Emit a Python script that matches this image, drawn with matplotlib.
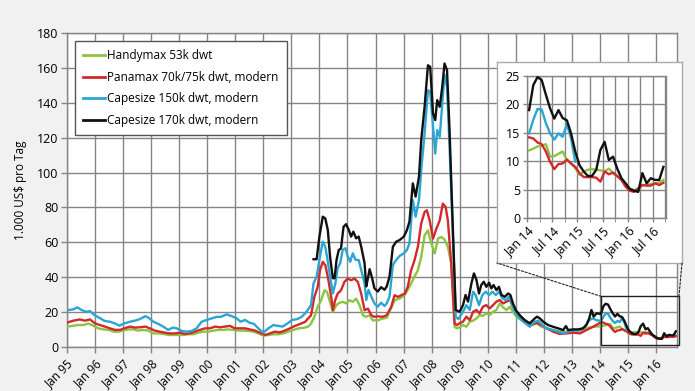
import matplotlib
matplotlib.use('Agg')
import matplotlib.pyplot as plt
from matplotlib.patches import Rectangle, ConnectionPatch
from matplotlib.lines import Line2D

plt.rcParams['font.family'] = ['Open Sans', 'DejaVu Sans']

# ---------------- data (1.000 US$ pro Tag) ----------------
series_names = ["Handymax 53k dwt", "Panamax 70k/75k dwt, modern",
                "Capesize 150k dwt, modern", "Capesize 170k dwt, modern"]

# Handymax 53k dwt, 1995 - 2013 (decimal years)
green_t = [1995.0, 1995.2, 1995.4, 1995.6, 1995.76, 1995.95, 1996.12, 1996.3, 1996.49, 1996.66,
           1996.83, 1997.0, 1997.19, 1997.36, 1997.54, 1997.72, 1997.9, 1998.08, 1998.26, 1998.44,
           1998.61, 1998.8, 1998.97, 1999.15, 1999.32, 1999.5, 1999.68, 1999.86, 2000.04, 2000.22,
           2000.39, 2000.57, 2000.75, 2000.93, 2001.11, 2001.29, 2001.47, 2001.65, 2001.82, 2002.0,
           2002.18, 2002.36, 2002.53, 2002.71, 2002.89, 2003.07, 2003.25, 2003.45, 2003.6, 2003.7,
           2003.82, 2003.94, 2004.06, 2004.18, 2004.27, 2004.36, 2004.48, 2004.6, 2004.71, 2004.83,
           2004.95, 2005.07, 2005.19, 2005.31, 2005.43, 2005.55, 2005.67, 2005.79, 2005.9, 2006.08,
           2006.26, 2006.4, 2006.52, 2006.68, 2006.86, 2007.04, 2007.21, 2007.39, 2007.51, 2007.63,
           2007.75, 2007.87, 2007.99, 2008.11, 2008.23, 2008.35, 2008.46, 2008.58, 2008.7, 2008.82,
           2008.9, 2009.0, 2009.12, 2009.24, 2009.36, 2009.48, 2009.6, 2009.71, 2009.83, 2009.95,
           2010.07, 2010.19, 2010.31, 2010.43, 2010.55, 2010.67, 2010.79, 2010.9, 2011.02, 2011.2,
           2011.38, 2011.56, 2011.74, 2011.92, 2012.1, 2012.33, 2012.57, 2012.81, 2013.05, 2013.29,
           2013.52, 2013.76]
green_v = [11.7, 12.1, 12.6, 12.6, 13.5, 12.1, 10.7, 10.1, 9.8, 8.8,
           8.8, 9.4, 10.1, 10.1, 9.4, 9.8, 9.4, 7.8, 7.8, 7.5,
           6.9, 6.9, 6.9, 6.9, 7.3, 7.3, 8.2, 8.8, 8.8, 9.4,
           9.8, 9.8, 10.1, 9.8, 9.4, 9.4, 9.2, 8.8, 7.8, 6.5,
           6.9, 7.3, 7.3, 7.8, 8.8, 9.8, 10.7, 11.0, 11.7, 13.4,
           17.3, 23.0, 26.8, 32.5, 31.6, 26.8, 20.1, 24.0, 25.3, 25.9,
           25.0, 26.8, 25.9, 27.8, 24.0, 18.2, 17.3, 18.2, 15.3, 15.3,
           16.3, 16.8, 21.1, 26.8, 27.8, 29.7, 34.5, 40.3, 44.0, 51.6,
           64.0, 66.9, 59.3, 53.6, 62.2, 63.1, 61.6, 57.4, 47.8, 11.5,
           10.7, 11.3, 12.6, 11.6, 14.5, 15.1, 16.4, 18.3, 17.8, 19.3,
           18.3, 20.2, 21.2, 25.0, 22.7, 21.2, 23.1, 20.2, 17.4, 15.4,
           13.6, 12.6, 13.6, 11.6, 10.7, 9.7, 8.8, 8.8, 9.4, 9.4,
           10.7, 11.6]

# Panamax 70k/75k dwt, modern
red_t = [1995.0, 1995.23, 1995.46, 1995.64, 1995.82, 1996.0, 1996.18, 1996.35, 1996.53, 1996.71,
         1996.89, 1997.04, 1997.25, 1997.42, 1997.6, 1997.8, 1997.95, 1998.13, 1998.31, 1998.49,
         1998.67, 1998.85, 1999.02, 1999.19, 1999.38, 1999.56, 1999.74, 1999.92, 2000.1, 2000.28,
         2000.45, 2000.63, 2000.81, 2000.99, 2001.17, 2001.35, 2001.52, 2001.7, 2001.88, 2002.06,
         2002.24, 2002.41, 2002.59, 2002.77, 2002.95, 2003.13, 2003.31, 2003.49, 2003.7, 2003.82,
         2003.94, 2004.02, 2004.12, 2004.21, 2004.31, 2004.42, 2004.48, 2004.56, 2004.65, 2004.77,
         2004.89, 2005.01, 2005.13, 2005.25, 2005.37, 2005.49, 2005.61, 2005.73, 2005.85, 2005.96,
         2006.08, 2006.24, 2006.4, 2006.56, 2006.68, 2006.8, 2006.92, 2007.04, 2007.15, 2007.27,
         2007.39, 2007.51, 2007.63, 2007.75, 2007.83, 2007.93, 2008.05, 2008.17, 2008.29, 2008.4,
         2008.5, 2008.58, 2008.7, 2008.82, 2008.9, 2009.0, 2009.12, 2009.24, 2009.36, 2009.48,
         2009.6, 2009.71, 2009.83, 2009.95, 2010.07, 2010.19, 2010.31, 2010.43, 2010.55, 2010.67,
         2010.79, 2010.9, 2011.02, 2011.2, 2011.38, 2011.56, 2011.74, 2011.92, 2012.1, 2012.33,
         2012.57, 2012.81, 2013.05, 2013.29, 2013.52, 2013.76]
red_v = [14.0, 15.1, 15.8, 15.1, 15.8, 13.5, 12.6, 11.7, 10.7, 9.8,
         9.8, 10.7, 11.7, 11.1, 11.3, 11.7, 10.7, 9.4, 8.8, 8.2,
         7.8, 7.8, 8.2, 7.5, 7.8, 8.8, 9.8, 10.7, 10.7, 11.7,
         11.3, 11.7, 12.1, 10.7, 10.7, 10.7, 10.1, 9.4, 8.2, 6.9,
         7.8, 8.8, 8.4, 9.4, 10.7, 12.1, 13.2, 14.4, 18.2, 28.7,
         34.5, 44.0, 48.8, 46.9, 39.3, 28.7, 21.1, 26.8, 30.6, 32.5,
         37.3, 39.2, 38.3, 39.2, 37.3, 30.6, 21.1, 22.0, 18.2, 17.3,
         17.6, 17.3, 18.2, 23.0, 29.7, 28.7, 29.7, 30.6, 34.5, 44.0,
         49.7, 57.4, 70.8, 77.4, 78.4, 72.6, 62.1, 67.8, 72.6, 82.2,
         80.3, 72.6, 47.7, 13.4, 12.6, 13.6, 14.5, 17.4, 15.4, 20.2,
         21.2, 19.3, 23.1, 24.0, 22.1, 24.0, 26.0, 26.9, 25.0, 26.0,
         26.9, 23.1, 19.3, 17.0, 14.5, 12.6, 13.9, 12.6, 10.7, 8.8,
         7.5, 7.8, 8.2, 7.8, 9.7, 11.6]

# Capesize 150k dwt, modern
blue_t = [1995.05, 1995.23, 1995.37, 1995.52, 1995.68, 1995.82, 1995.97, 1996.18, 1996.35, 1996.53,
          1996.71, 1996.87, 1997.04, 1997.25, 1997.42, 1997.6, 1997.8, 1997.93, 1998.08, 1998.26,
          1998.43, 1998.61, 1998.77, 1998.91, 1999.09, 1999.27, 1999.44, 1999.62, 1999.8, 1999.98,
          2000.16, 2000.34, 2000.49, 2000.69, 2000.87, 2001.05, 2001.19, 2001.35, 2001.5, 2001.67,
          2001.82, 2002.0, 2002.18, 2002.36, 2002.53, 2002.69, 2002.86, 2003.03, 2003.21, 2003.37,
          2003.54, 2003.7, 2003.79, 2003.9, 2004.0, 2004.12, 2004.21, 2004.29, 2004.38, 2004.48,
          2004.57, 2004.65, 2004.74, 2004.83, 2004.93, 2005.01, 2005.1, 2005.19, 2005.29, 2005.4,
          2005.49, 2005.61, 2005.67, 2005.75, 2005.85, 2005.96, 2006.08, 2006.2, 2006.32, 2006.4,
          2006.5, 2006.62, 2006.74, 2006.86, 2007.01, 2007.12, 2007.21, 2007.33, 2007.43, 2007.55,
          2007.63, 2007.75, 2007.87, 2007.95, 2008.05, 2008.13, 2008.2, 2008.29, 2008.38, 2008.46,
          2008.55, 2008.64, 2008.76, 2008.86, 2008.95, 2009.12, 2009.24, 2009.36, 2009.48, 2009.57,
          2009.69, 2009.81, 2009.93, 2010.05, 2010.17, 2010.29, 2010.4, 2010.52, 2010.64, 2010.76,
          2010.88, 2011.0, 2011.14, 2011.32, 2011.5, 2011.68, 2011.8, 2011.92, 2012.1, 2012.33,
          2012.51, 2012.69, 2012.87, 2013.05, 2013.29, 2013.46, 2013.62, 2013.74, 2013.88]
blue_v = [21.2, 21.6, 22.7, 21.2, 20.2, 20.6, 18.4, 16.5, 14.9, 14.5,
          13.5, 12.2, 13.5, 14.5, 15.1, 16.0, 17.7, 16.5, 14.5, 13.2,
          11.7, 9.8, 11.1, 10.7, 9.2, 8.8, 9.2, 10.7, 14.5, 15.5,
          16.4, 17.3, 17.3, 18.7, 17.7, 16.4, 14.5, 15.5, 14.0, 13.2,
          10.7, 8.2, 10.7, 12.6, 12.1, 11.7, 13.5, 15.5, 16.0, 17.3,
          20.2, 24.0, 36.5, 40.3, 49.9, 60.4, 57.5, 49.9, 40.3, 30.8,
          36.5, 45.2, 48.0, 55.6, 56.6, 51.8, 48.9, 53.7, 49.9, 49.9,
          44.2, 36.5, 26.9, 32.7, 28.9, 25.0, 23.1, 25.4, 23.5, 25.0,
          28.9, 47.1, 49.9, 52.2, 53.7, 55.6, 59.4, 84.2, 74.7, 84.2,
          101.5, 122.4, 147.2, 146.3, 126.2, 110.9, 124.3, 120.5, 139.6, 156.0,
          149.1, 114.7, 63.3, 17.3, 16.0, 20.2, 24.0, 21.2, 31.7, 29.8,
          24.0, 29.8, 31.7, 29.8, 31.7, 29.8, 31.7, 27.9, 26.9, 28.8,
          24.0, 19.3, 16.4, 13.9, 11.6, 14.5, 15.1, 13.2, 10.7, 9.7,
          8.8, 7.8, 8.8, 9.4, 9.7, 11.6, 15.4, 16.4, 15.4]

# Capesize 170k dwt, modern (from Q4 2003)
black_t = [2003.79, 2003.9, 2004.0, 2004.12, 2004.21, 2004.3, 2004.38, 2004.48, 2004.54, 2004.61,
           2004.69, 2004.77, 2004.86, 2004.95, 2005.05, 2005.13, 2005.21, 2005.31, 2005.4, 2005.49,
           2005.61, 2005.67, 2005.73, 2005.79, 2005.88, 2005.96, 2006.08, 2006.2, 2006.32, 2006.4,
           2006.5, 2006.62, 2006.74, 2006.86, 2007.01, 2007.12, 2007.21, 2007.33, 2007.43, 2007.55,
           2007.63, 2007.75, 2007.87, 2007.95, 2008.05, 2008.13, 2008.2, 2008.29, 2008.38, 2008.46,
           2008.55, 2008.64, 2008.76, 2008.86, 2009.0, 2009.12, 2009.21, 2009.3, 2009.42, 2009.51,
           2009.6, 2009.69, 2009.77, 2009.86, 2009.95, 2010.05, 2010.13, 2010.21, 2010.31, 2010.4,
           2010.49, 2010.61, 2010.73, 2010.81, 2010.9, 2011.0, 2011.14, 2011.32, 2011.5, 2011.68,
           2011.76, 2011.86, 2011.98, 2012.15, 2012.33, 2012.51, 2012.69, 2012.79, 2012.87, 2013.05,
           2013.23, 2013.4, 2013.52, 2013.62, 2013.7, 2013.78, 2013.88]
black_v = [50.3, 50.3, 63.3, 74.7, 73.7, 67.0, 51.6, 39.4, 39.4, 49.9,
           55.6, 56.5, 68.9, 70.4, 67.0, 63.3, 66.1, 62.3, 63.3, 57.5,
           48.0, 34.7, 39.4, 44.6, 39.4, 33.7, 31.8, 34.3, 32.8, 34.7,
           40.4, 57.5, 60.4, 61.3, 63.3, 67.0, 71.8, 93.8, 86.2, 97.6,
           118.6, 137.7, 161.5, 160.6, 133.9, 130.1, 141.5, 137.7, 149.1, 162.5,
           158.7, 124.3, 67.0, 21.2, 20.2, 24.0, 29.8, 26.0, 36.5, 42.2,
           38.4, 30.7, 35.5, 37.4, 34.5, 36.8, 33.6, 35.5, 32.6, 34.5,
           29.8, 28.8, 30.7, 29.8, 25.0, 21.2, 18.3, 15.4, 13.6, 16.4,
           17.4, 16.4, 14.5, 12.6, 11.6, 10.7, 9.7, 12.0, 9.7, 10.1,
           10.1, 10.7, 12.6, 16.4, 21.2, 17.4, 19.3]

# Monthly values Jan 2014 - Sep 2016 (inset period)
months_1416 = [f"{m} {y}" for y in (2014, 2015, 2016)
               for m in ("Jan", "Feb", "Mar", "Apr", "May", "Jun",
                         "Jul", "Aug", "Sep", "Oct", "Nov", "Dec")][:33]
green_1416 = [11.9, 12.2, 12.6, 12.7, 13.0, 10.8, 10.9, 11.3, 11.7, 10.2, 9.6, 8.8,
              7.6, 8.2, 8.5, 8.6, 8.5, 8.4, 8.2, 8.7, 7.9, 7.3, 6.7, 5.8,
              5.2, 4.9, 5.2, 5.8, 5.8, 6.0, 6.1, 6.2, 6.7]
red_1416 = [14.2, 14.0, 13.3, 13.0, 11.7, 9.9, 8.6, 9.5, 9.6, 10.3, 9.6, 9.0,
            7.9, 7.2, 7.2, 7.2, 7.1, 6.4, 8.2, 7.7, 8.0, 7.4, 6.7, 5.5,
            4.8, 4.6, 5.2, 5.8, 5.7, 5.7, 6.1, 5.8, 6.2]
blue_1416 = [14.9, 17.3, 19.2, 19.1, 16.7, 14.9, 13.8, 14.9, 14.3, 16.5, 14.0, 9.9]
black_1416 = [19.0, 23.4, 24.8, 24.3, 21.7, 19.3, 17.5, 19.0, 17.6, 17.2, 14.9, 11.7,
              9.3, 8.2, 7.4, 7.4, 8.5, 12.0, 13.4, 10.2, 10.8, 8.7, 7.0, 6.1,
              5.1, 4.8, 4.6, 7.9, 6.1, 7.0, 6.7, 6.7, 9.0]

main_years = list(range(1995, 2017))
main_labels = [f"Jan {y % 100:02d}" for y in main_years]
inset_ticks = [2014.0, 2014.5, 2015.0, 2015.5, 2016.0, 2016.5]
inset_labels = ["Jan 14", "Jul 14", "Jan 15", "Jul 15", "Jan 16", "Jul 16"]

# ---------------- helpers ----------------
def month_time(label):
    names = ["Jan", "Feb", "Mar", "Apr", "May", "Jun", "Jul", "Aug", "Sep", "Oct", "Nov", "Dec"]
    m, y = label.split()
    return int(y) + (names.index(m) + 0.5) / 12.0

t_1416 = [month_time(s) for s in months_1416]

full = {
    "green": (green_t + t_1416, green_v + green_1416),
    "red": (red_t + t_1416, red_v + red_1416),
    "blue": (blue_t + t_1416[:len(blue_1416)], blue_v + blue_1416),
    "black": (black_t + t_1416, black_v + black_1416),
}
colors = {"green": "#8cc440", "red": "#d3282c", "blue": "#2aa6d2", "black": "#111111"}
order = ["green", "red", "blue", "black"]
GRID = "#858585"
LW = 1.7

W, H = 695, 391
fig = plt.figure(figsize=(W / 100, H / 100), dpi=100, facecolor="#f1f1f1")

# ---------------- main axes ----------------
ax = fig.add_axes([67 / W, 1 - 347 / H, 610 / W, 314 / H])
ax.set_facecolor("white")
for k in order:
    t, v = full[k]
    ax.plot(t, v, color=colors[k], lw=LW, zorder=3, solid_joinstyle="round")
ax.set_xlim(1995.0, 2016.75)
ax.set_ylim(0, 180)
ax.set_yticks(range(0, 181, 20))
ax.set_xticks(main_years)
ax.set_xticklabels(main_labels, rotation=45, ha="right", va="top", rotation_mode="anchor")
ax.grid(True, color=GRID, lw=1, zorder=1)
ax.set_axisbelow(True)
for s in ax.spines.values():
    s.set_color(GRID)
    s.set_linewidth(1)
ax.tick_params(direction="out", length=4, color=GRID, width=1, labelsize=9, pad=2)
ax.tick_params(axis="x", pad=3, labelsize=8.5)
ax.set_ylabel("1.000 US$ pro Tag", fontsize=8.5)
ax.yaxis.set_label_coords(-0.066, 0.5)

# zoom rectangle
rect = Rectangle((2014.05, 1.0), 2.77, 28.0, fill=False, edgecolor="#222222", lw=1,
                 zorder=4, clip_on=False)
ax.add_patch(rect)

# legend
handles = [Line2D([], [], color=colors[k], lw=LW + 0.3) for k in order]
leg = ax.legend(handles, series_names, loc="upper left",
                bbox_to_anchor=(75 / W, 1 - 41 / H), bbox_transform=fig.transFigure,
                fontsize=8.5, frameon=True, fancybox=False, framealpha=1,
                edgecolor="#555555", handlelength=1.8, handletextpad=0.25,
                labelspacing=0.72, borderpad=0.7, borderaxespad=0)
leg.get_frame().set_linewidth(1)
leg.set_zorder(6)

# ---------------- inset ----------------
box = fig.add_axes([497 / W, 1 - 263 / H, 185 / W, 201 / H])
box.set_facecolor("white")
box.set_xticks([])
box.set_yticks([])
for s in box.spines.values():
    s.set_color("#aaaaaa")
    s.set_linewidth(1)

ins = fig.add_axes([527 / W, 1 - 218 / H, 139 / W, 142 / H])
ins.set_facecolor("white")
for k in order:
    t, v = full[k]
    ti = [a for a in t if a >= 2014.0]
    vi = v[len(t) - len(ti):]
    ins.plot(ti, vi, color=colors[k], lw=LW, zorder=3, solid_joinstyle="round")
ins.set_xlim(2014.0, 2016.76)
ins.set_ylim(0, 25)
ins.set_yticks(range(0, 26, 5))
ins.set_xticks(inset_ticks)
ins.set_xticklabels(inset_labels, rotation=45, ha="right", va="top", rotation_mode="anchor")
ins.set_xticks([2014.25, 2014.75, 2015.25, 2015.75, 2016.25, 2016.75], minor=True)
ins.grid(True, which="both", color=GRID, lw=1, zorder=1)
ins.set_axisbelow(True)
for s in ins.spines.values():
    s.set_color(GRID)
    s.set_linewidth(1)
ins.tick_params(direction="out", length=3, color=GRID, width=1, labelsize=9, pad=2)
ins.tick_params(which="minor", length=3, color=GRID)

# dashed connectors
for xa, xb in ((2014.05, 0.0), (2016.82, 1.0)):
    con = ConnectionPatch(xyA=(xa, 29.0), coordsA=ax.transData,
                          xyB=(xb, 0.0), coordsB=box.transAxes,
                          linestyle=(0, (2, 1.5)), color="#222222", lw=0.8)
    fig.add_artist(con)

fig.savefig("out.png", dpi=100, facecolor=fig.get_facecolor())
